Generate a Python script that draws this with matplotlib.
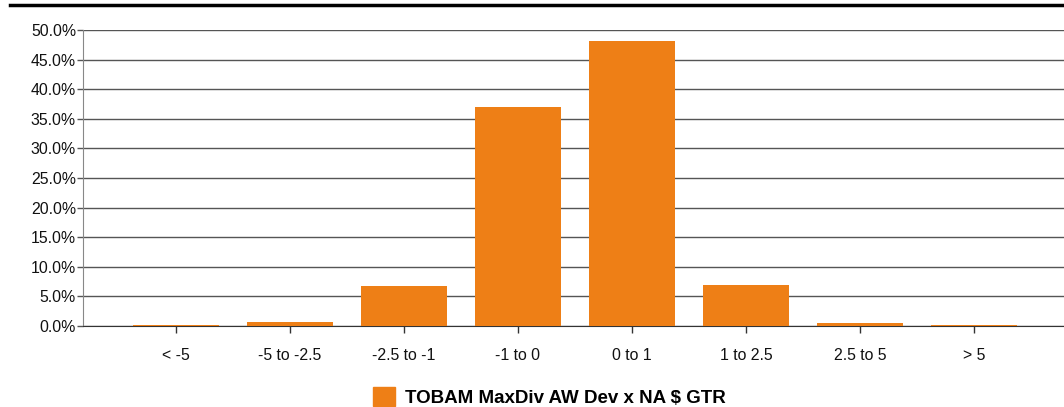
import matplotlib.pyplot as plt
from matplotlib.lines import Line2D
from matplotlib.patches import Patch
from matplotlib.ticker import FuncFormatter

plt.rcParams['font.family'] = ['Liberation Sans', 'DejaVu Sans']

# donnees
categories = ['< -5', '-5 to -2.5', '-2.5 to -1', '-1 to 0', '0 to 1', '1 to 2.5', '2.5 to 5', '> 5']
values = [0.1, 0.6, 6.7, 37.0, 48.1, 7.0, 0.45, 0.1]
series_name = 'TOBAM MaxDiv AW Dev x NA $ GTR'
yticks = [0, 5, 10, 15, 20, 25, 30, 35, 40, 45, 50]

orange = '#EE7F16'

fig = plt.figure(figsize=(10.64, 4.07), dpi=100)
ax = fig.add_axes([83/1064, 1 - 326/407, 1 - 83/1064, 296/407])

x = range(len(categories))
ax.bar(x, values, width=0.75, color=orange, zorder=5)

ax.set_xlim(-0.816, 7.79)
ax.set_ylim(0, 50)
ax.set_yticks(yticks)
ax.yaxis.set_major_formatter(FuncFormatter(lambda v, p: '%.1f%%' % v))
ax.set_xticks(list(x))
ax.set_xticklabels(categories)

ax.grid(axis='y', color='#555555', linewidth=1, zorder=0)
for s in ['top', 'right']:
    ax.spines[s].set_visible(False)
ax.spines['left'].set_color('#888888')
ax.spines['bottom'].set_color('#333333')
ax.spines['bottom'].set_zorder(4)

ax.tick_params(axis='y', length=4, width=1, color='#555555', labelsize=11.4, labelcolor='#111111', pad=1)
ax.tick_params(axis='x', length=5, width=1, color='#333333', labelsize=11.4, labelcolor='#111111', pad=11)

# ligne noire du haut
fig.add_artist(Line2D([10/1064, 1], [1 - 5/407, 1 - 5/407], color='black', linewidth=2.5))

# legende
leg = fig.legend(handles=[Patch(color=orange, label=series_name)], loc='center',
                 bbox_to_anchor=(549/1064, 1 - 397/407), frameon=False, handlelength=1.2, handleheight=1.2,
                 handletextpad=0.5, borderpad=0, prop={'weight': 'bold', 'size': 13.5})

fig.savefig('out.png', dpi=100)
